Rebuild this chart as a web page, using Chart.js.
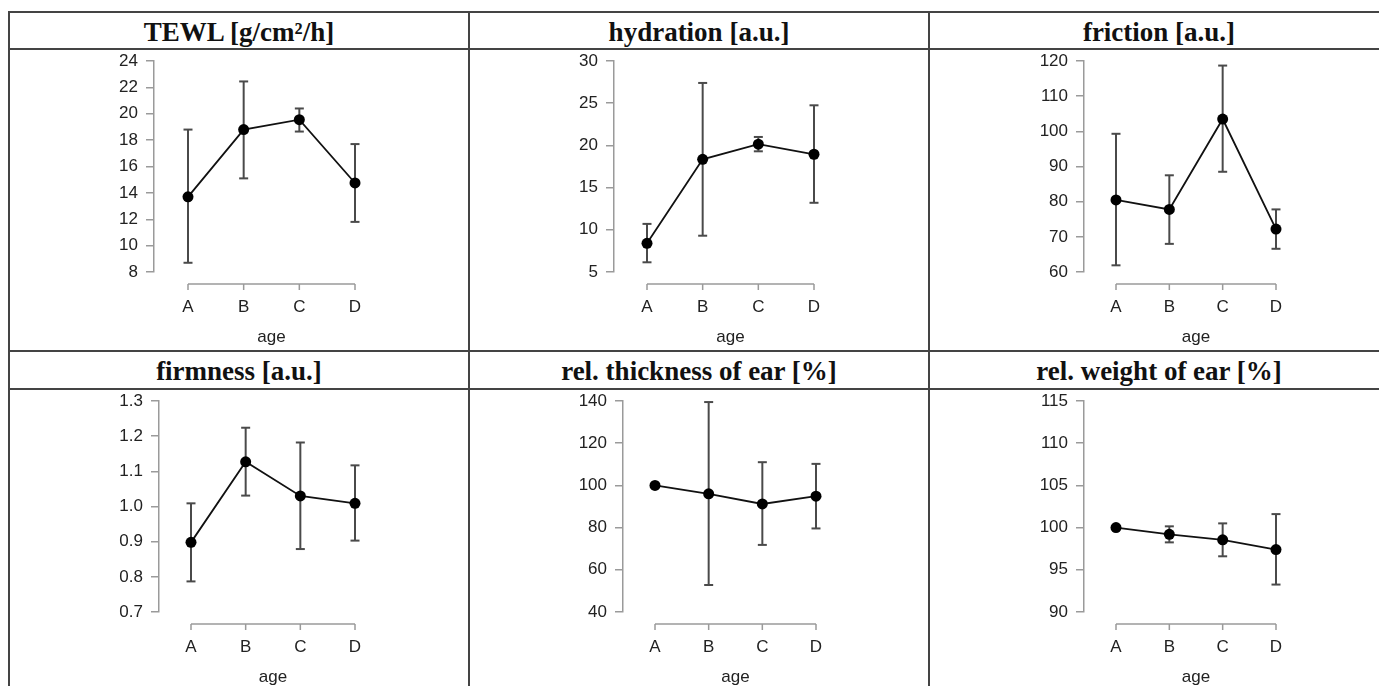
<!DOCTYPE html>
<html>
<head>
<meta charset="utf-8">
<title>skin parameters by age</title>
<script src="https://cdn.jsdelivr.net/npm/chart.js@4.4.1/dist/chart.umd.min.js"></script>
<style>
  html, body { margin: 0; padding: 0; background: #fff; overflow: hidden; }
  #tbl {
    position: absolute; left: 8px; top: 11px;
    display: grid;
    grid-template-columns: 460px 460px 460px;
    grid-template-rows: 37px 302px 38px 310px;
    border-top: 2px solid #444; border-left: 2px solid #444;
  }
  #tbl > div { border-right: 2px solid #444; border-bottom: 2px solid #444; box-sizing: border-box; position: relative; }
  .head {
    font-family: "Liberation Serif", "Times New Roman", serif;
    font-weight: bold; font-size: 27px; color: #111;
    text-align: center; line-height: 35px; padding-top: 2px;
  }
  .plot canvas { position: absolute; left: 0; top: 0; }
</style>
</head>
<body>
<div id="tbl"></div>
<script>
// ─── Data ─────────────────────────────────────────────────────────────────────
const categories = ['A', 'B', 'C', 'D'];
const xTitle = 'age';

const titles = ['TEWL [g/cm²/h]', 'hydration [a.u.]', 'friction [a.u.]',
                'firmness [a.u.]', 'rel. thickness of ear [%]', 'rel. weight of ear [%]'];

// mean, lower and upper end of error bar per age group
const tewlMean = [13.7, 18.8, 19.55, 14.75];
const tewlLow  = [8.7, 15.1, 18.65, 11.8];
const tewlHigh = [18.8, 22.45, 20.4, 17.7];

const hydrationMean = [8.4, 18.35, 20.15, 18.95];
const hydrationLow  = [6.15, 9.3, 19.3, 13.2];
const hydrationHigh = [10.7, 27.4, 21.0, 24.75];

const frictionMean = [80.5, 77.8, 103.5, 72.2];
const frictionLow  = [61.9, 68.0, 88.5, 66.6];
const frictionHigh = [99.3, 87.5, 118.7, 77.8];

const firmnessMean = [0.898, 1.127, 1.03, 1.009];
const firmnessLow  = [0.787, 1.031, 0.879, 0.903];
const firmnessHigh = [1.009, 1.224, 1.182, 1.117];

const thicknessMean = [100, 96, 91.2, 94.9];
const thicknessLow  = [100, 52.8, 71.8, 79.6];
const thicknessHigh = [100, 139.5, 111, 110.2];

const weightMean = [100, 99.2, 98.55, 97.4];
const weightLow  = [100, 98.25, 96.6, 93.25];
const weightHigh = [100, 100.15, 100.5, 101.6];

// y axis ticks
const yMin  = [8, 5, 60, 0.7, 40, 90];
const yMax  = [24, 30, 120, 1.3, 140, 115];
const yStep = [2, 5, 10, 0.1, 20, 5];
const yDecimals = [0, 0, 0, 1, 0, 0];

const means = [tewlMean, hydrationMean, frictionMean, firmnessMean, thicknessMean, weightMean];
const lows  = [tewlLow, hydrationLow, frictionLow, firmnessLow, thicknessLow, weightLow];
const highs = [tewlHigh, hydrationHigh, frictionHigh, firmnessHigh, thicknessHigh, weightHigh];

// ─── Layout (pixels inside each plot cell) ───────────────────────────────────
const CW = 458, CH = 300;
const yAxisAt = [144, 144, 154, 149, 153, 154];   // y axis line
const firstAt = [178, 177, 186, 181, 185, 186];   // category A
const lastAt  = [345, 344, 346, 345, 346, 346];   // category D

const AXIS_GREY = '#9a9a9a';
const BAR_GREY = '#4a4a4a';
const TEXT = '#222';

Chart.defaults.font.family = '"Liberation Sans", Arial, sans-serif';
Chart.defaults.font.size = 17;
Chart.defaults.color = TEXT;

// R style x axis: line only from first to last category, set below the plot
const rStyleXAxis = {
  id: 'rStyleXAxis',
  afterDraw(chart) {
    const sx = chart.scales.x;
    const ctx = chart.ctx;
    const y0 = chart.chartArea.bottom + 12;
    ctx.save();
    ctx.strokeStyle = AXIS_GREY;
    ctx.lineWidth = 1.5;
    ctx.beginPath();
    ctx.moveTo(sx.getPixelForValue(0), y0);
    ctx.lineTo(sx.getPixelForValue(categories.length - 1), y0);
    sx.ticks.forEach(t => {
      const px = sx.getPixelForValue(t.value);
      ctx.moveTo(px, y0);
      ctx.lineTo(px, y0 + 6);
    });
    ctx.stroke();
    ctx.restore();
  }
};

// ─── Build table ──────────────────────────────────────────────────────────────
const tbl = document.getElementById('tbl');
const canvases = [];
[0, 3].forEach(start => {
  for (let i = start; i < start + 3; i++) {
    const h = document.createElement('div');
    h.className = 'head';
    h.textContent = titles[i];
    tbl.appendChild(h);
  }
  for (let i = start; i < start + 3; i++) {
    const c = document.createElement('div');
    c.className = 'plot';
    const cv = document.createElement('canvas');
    cv.width = CW; cv.height = CH;
    cv.style.width = CW + 'px'; cv.style.height = CH + 'px';
    c.appendChild(cv);
    tbl.appendChild(c);
    canvases[i] = cv;
  }
});

// ─── Charts ───────────────────────────────────────────────────────────────────
function makeChart(i) {
  const unit = (lastAt[i] - firstAt[i]) / (categories.length - 1);
  const gap = (firstAt[i] - yAxisAt[i]) / unit;
  const rightEdge = lastAt[i] + (firstAt[i] - yAxisAt[i]);

  const datasets = [{
    data: categories.map((c, k) => ({ x: k, y: means[i][k] })),
    borderColor: '#111', borderWidth: 1.8,
    pointRadius: 5.5, pointBorderWidth: 0,
    pointBackgroundColor: '#000',
    tension: 0, clip: false
  }];
  categories.forEach((c, k) => {
    datasets.push({
      data: [{ x: k, y: lows[i][k] }, { x: k, y: highs[i][k] }],
      borderColor: BAR_GREY, borderWidth: 2,
      pointStyle: 'line', pointRadius: 4.5, pointBorderWidth: 2,
      pointBorderColor: BAR_GREY,
      clip: false
    });
  });

  new Chart(canvases[i].getContext('2d'), {
    type: 'line',
    data: { datasets },
    plugins: [rStyleXAxis],
    options: {
      responsive: false,
      animation: false,
      devicePixelRatio: 1,
      events: [],
      layout: { padding: { top: 11, left: 0, bottom: 0, right: CW - rightEdge } },
      plugins: { legend: { display: false }, tooltip: { enabled: false } },
      scales: {
        x: {
          type: 'linear',
          min: -gap, max: categories.length - 1 + gap,
          afterBuildTicks: s => { s.ticks = categories.map((c, k) => ({ value: k })); },
          afterFit: s => { s.height = CH - 222; },
          grid: { display: false, drawTicks: false },
          border: { display: false },
          ticks: { padding: 25, maxRotation: 0, autoSkip: false, callback: v => categories[v] },
          title: { display: true, text: xTitle, padding: { top: 0, bottom: 2 } }
        },
        y: {
          min: yMin[i], max: yMax[i],
          afterFit: s => { s.width = yAxisAt[i]; s.paddingTop = 0; s.paddingBottom = 0; },
          ticks: { stepSize: yStep[i], padding: 8, callback: v => v.toFixed(yDecimals[i]) },
          grid: { drawOnChartArea: false, drawTicks: true, tickLength: 8, color: AXIS_GREY, lineWidth: 1.5 },
          border: { display: true, color: AXIS_GREY, width: 1.5 }
        }
      }
    }
  });
}

titles.forEach((t, i) => makeChart(i));
</script>
</body>
</html>
